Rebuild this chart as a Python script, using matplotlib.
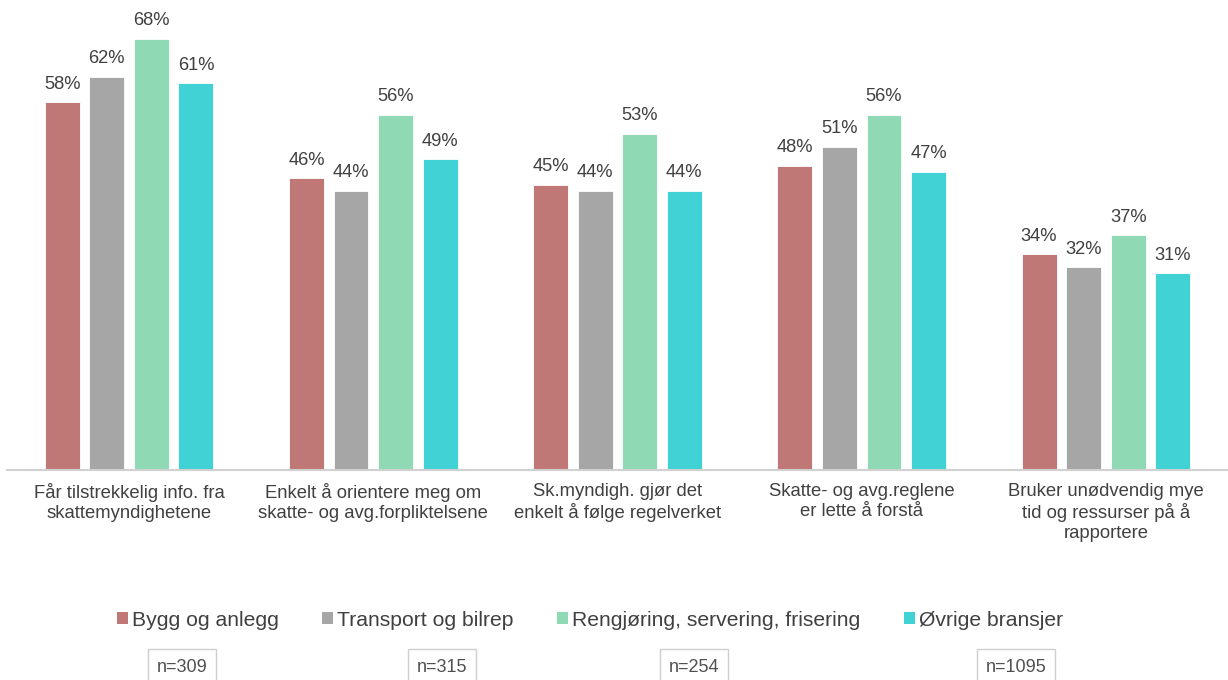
import numpy as np
import matplotlib.pyplot as plt
from matplotlib.patches import Patch

plt.rcParams['font.family'] = ['Liberation Sans', 'DejaVu Sans']

# Données du graphique
categories = ['Får tilstrekkelig info. fra\nskattemyndighetene',
              'Enkelt å orientere meg om\nskatte- og avg.forpliktelsene',
              'Sk.myndigh. gjør det\nenkelt å følge regelverket',
              'Skatte- og avg.reglene\ner lette å forstå',
              'Bruker unødvendig mye\ntid og ressurser på å\nrapportere']
series_names = ['Bygg og anlegg', 'Transport og bilrep',
                'Rengjøring, servering, frisering', 'Øvrige bransjer']
bygg = [58, 46, 45, 48, 34]
transport = [62, 44, 44, 51, 32]
rengjoring = [68, 56, 53, 56, 37]
ovrige = [61, 49, 44, 47, 31]
n_labels = ['n=309', 'n=315', 'n=254', 'n=1095']

colors = ['#C07876', '#A6A6A6', '#8FD9B4', '#41D2D5']
text_color = '#404040'

fig = plt.figure(figsize=(12.28, 6.8), dpi=100)
ax = fig.add_axes([7 / 1228, 210 / 680, 1221 / 1228, 470 / 680])

x = np.arange(len(categories))
step = 0.1824
width = 0.143
all_series = [bygg, transport, rengjoring, ovrige]
for i, (vals, col) in enumerate(zip(all_series, colors)):
    pos = x + (i - 1.5) * step
    bars = ax.bar(pos, vals, width=width, color=col, edgecolor='white', linewidth=0.6)
    for b, v in zip(bars, vals):
        ax.text(b.get_x() + b.get_width() / 2, v + 1.5, f'{v}%', ha='center', va='bottom',
                fontsize=13.2, color=text_color)

ax.set_xlim(-0.5, 4.5)
ax.set_ylim(0, 74.1)
ax.set_yticks([])
ax.set_xticks(x)
ax.set_xticklabels(categories, fontsize=13.3, color=text_color, linespacing=1.25,
                   va='top')
ax.tick_params(axis='x', length=0, pad=9)
for s in ['top', 'right', 'left']:
    ax.spines[s].set_visible(False)
ax.spines['bottom'].set_color('#D0D0D0')
ax.spines['bottom'].set_linewidth(1.5)

handles = [Patch(facecolor=c, edgecolor='none') for c in colors]
fig.legend(handles, series_names, loc='center', bbox_to_anchor=(590 / 1228, 1 - 620 / 680),
           ncol=4, frameon=False, fontsize=15.2, handlelength=0.52, handleheight=0.52,
           handletextpad=0.2, columnspacing=2.05, labelcolor=text_color)

# Boîtes n=
n_centers = [182, 442, 694, 1016]
for cx, lab in zip(n_centers, n_labels):
    fig.text(cx / 1228, 1 - 667 / 680, lab, ha='center', va='center', fontsize=13,
             color='#505050',
             bbox=dict(boxstyle='square,pad=0.5', facecolor='white', edgecolor='#CFCFCF',
                       linewidth=1.0))

fig.savefig('out.png', dpi=100)
